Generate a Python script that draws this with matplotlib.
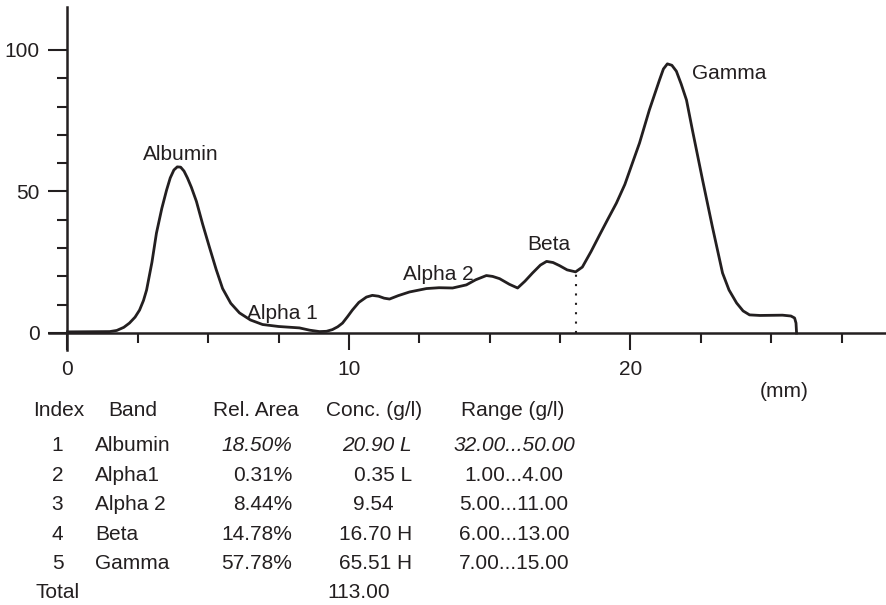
import numpy as np
import matplotlib.pyplot as plt
from matplotlib.ticker import FixedLocator

plt.rcParams['font.family'] = ['Liberation Sans', 'DejaVu Sans']
plt.rcParams['font.size'] = 15

INK = '#231f20'
W, H = 886, 605

# densitometry scan: position (mm) vs absorbance
pos_mm = [0, 1.5, 1.75, 2.0, 2.2, 2.4, 2.56, 2.7, 2.81, 3.0, 3.16, 3.35, 3.52, 3.65,
          3.78, 3.9, 4.02, 4.14, 4.26, 4.4, 4.58, 4.8, 5.04, 5.28, 5.51, 5.8, 6.11,
          6.5, 6.93, 7.5, 8.24, 8.6, 8.95, 9.2, 9.41, 9.6, 9.77, 9.95, 10.12, 10.35,
          10.62, 10.83, 11.05, 11.25, 11.44, 11.75, 12.15, 12.75, 13.2, 13.68, 14.17,
          14.5, 14.88, 15.1, 15.35, 15.7, 15.99, 16.25, 16.52, 16.8, 17.02, 17.25,
          17.48, 17.75, 18.05, 18.29, 18.6, 18.9, 19.2, 19.5, 19.8, 20.07, 20.32,
          20.67, 21.03, 21.17, 21.31, 21.47, 21.63, 21.8, 21.99, 22.2, 22.56, 22.91,
          23.27, 23.5, 23.77, 24.0, 24.23, 24.6, 25.4, 25.7, 25.83, 25.88, 25.9]
signal = [0.4, 0.5, 0.9, 2.0, 3.5, 5.6, 8.1, 11.5, 15.2, 25.0, 35.3, 44.0, 50.5, 54.8,
          57.6, 58.7, 58.6, 57.2, 54.8, 51.5, 46.5, 38.5, 30.4, 22.5, 15.7, 10.5, 7.1,
          4.6, 3.0, 2.3, 1.8, 1.0, 0.5, 0.6, 1.2, 2.2, 3.5, 5.8, 8.1, 10.8,
          12.7, 13.3, 13.0, 12.3, 12.0, 13.2, 14.5, 15.7, 16.0, 15.9, 17.0,
          18.8, 20.3, 20.0, 19.2, 17.2, 15.9, 18.3, 21.2, 24.0, 25.3, 24.9,
          23.8, 22.3, 21.6, 23.3, 28.8, 34.6, 40.3, 45.9, 52.5, 60.1, 67.1,
          78.8, 89.4, 93.3, 95.1, 94.6, 92.5, 88.0, 82.3, 71.7, 54.1, 37.5,
          21.2, 15.2, 10.6, 7.8, 6.4, 6.2, 6.3, 6.0, 5.3, 3.5, 0.0]

# split between beta and gamma fractions
beta_gamma_split = 18.05

peak_names = ['Albumin', 'Alpha 1', 'Alpha 2', 'Beta', 'Gamma']
peak_label_x = [4.01, 6.38, 11.92, 16.32, 22.18]
peak_label_y = [61.3, 4.8, 18.6, 29.2, 89.6]
peak_label_ha = ['center', 'left', 'left', 'left', 'left']

# results table
idx = ['1', '2', '3', '4', '5']
bands = ['Albumin', 'Alpha1', 'Alpha 2', 'Beta', 'Gamma']
rel_area = ['18.50%', '0.31%', '8.44%', '14.78%', '57.78%']
conc = ['20.90', '0.35', '9.54', '16.70', '65.51']
flags = ['L', 'L', '', 'H', 'H']
ranges = ['32.00...50.00', '1.00...4.00', '5.00...11.00', '6.00...13.00', '7.00...15.00']
total_conc = '113.00'
headers = ['Index', 'Band', 'Rel. Area', 'Conc. (g/l)', 'Range (g/l)']

fig = plt.figure(figsize=(W / 100, H / 100), dpi=100)
ax = fig.add_axes([49 / W, (H - 350) / H, (W - 49) / W, 343 / H])
ax.set_xlim(-0.657, 29.077)
ax.set_ylim(-6.007, 115.19)

for side in ('top', 'right'):
    ax.spines[side].set_visible(False)
for side in ('left', 'bottom'):
    ax.spines[side].set_position(('data', 0))
    ax.spines[side].set_linewidth(1.8)
    ax.spines[side].set_color(INK)

ax.xaxis.set_major_locator(FixedLocator([0, 10, 20]))
ax.xaxis.set_minor_locator(FixedLocator(np.arange(2.5, 28, 2.5)))
ax.yaxis.set_major_locator(FixedLocator([0, 50, 100]))
ax.yaxis.set_minor_locator(FixedLocator(np.arange(10, 100, 10)))
ax.tick_params(axis='x', which='major', length=12.2, width=1.5, pad=7, colors=INK)
ax.tick_params(axis='x', which='minor', length=7.2, width=1.5, colors=INK)
ax.tick_params(axis='y', which='major', length=13.7, width=1.5, pad=6.5, colors=INK)
ax.tick_params(axis='y', which='minor', length=7.2, width=1.5, colors=INK)
ax.tick_params(labelsize=15)

ax.plot(pos_mm, signal, color=INK, lw=2.0, solid_joinstyle='round', clip_on=False)
split_h = np.interp(beta_gamma_split, pos_mm, signal)
ax.plot([beta_gamma_split, beta_gamma_split], [0, split_h], color=INK,
        lw=1.5, linestyle=(0, (1, 3.5)))

for name, x, y, ha in zip(peak_names, peak_label_x, peak_label_y, peak_label_ha):
    ax.text(x, y, name, ha=ha, va='baseline', color=INK, fontsize=15)

fig.text(760 / W, 1 - 397.4 / H, '(mm)', ha='left', va='baseline', color=INK, fontsize=15)


def put(x, y, s, ha='left', italic=False):
    # x, y in pixels from top-left; y is the vertical centre of the capitals
    fig.text(x / W, 1 - (y + 7.4) / H, s, ha=ha, va='baseline', color=INK,
             fontsize=15, style='italic' if italic else 'normal')


hy = 409
put(33, hy, headers[0])
put(108, hy, headers[1])
put(213, hy, headers[2])
put(326, hy, headers[3])
put(513, hy, headers[4], ha='center')

for i in range(len(idx)):
    y = 444 + i * 29.4
    it = i == 0
    put(57.5, y, idx[i], ha='center')
    put(95, y, bands[i])
    put(292, y, rel_area[i], ha='right', italic=it)
    if flags[i]:
        put(412, y, conc[i] + ' ' + flags[i], ha='right', italic=it)
    else:
        put(394, y, conc[i], ha='right', italic=it)
    put(514, y, ranges[i], ha='center', italic=it)

put(35, 591, 'Total')
put(390, 591, total_conc, ha='right')

fig.savefig('out.png', dpi=100)
